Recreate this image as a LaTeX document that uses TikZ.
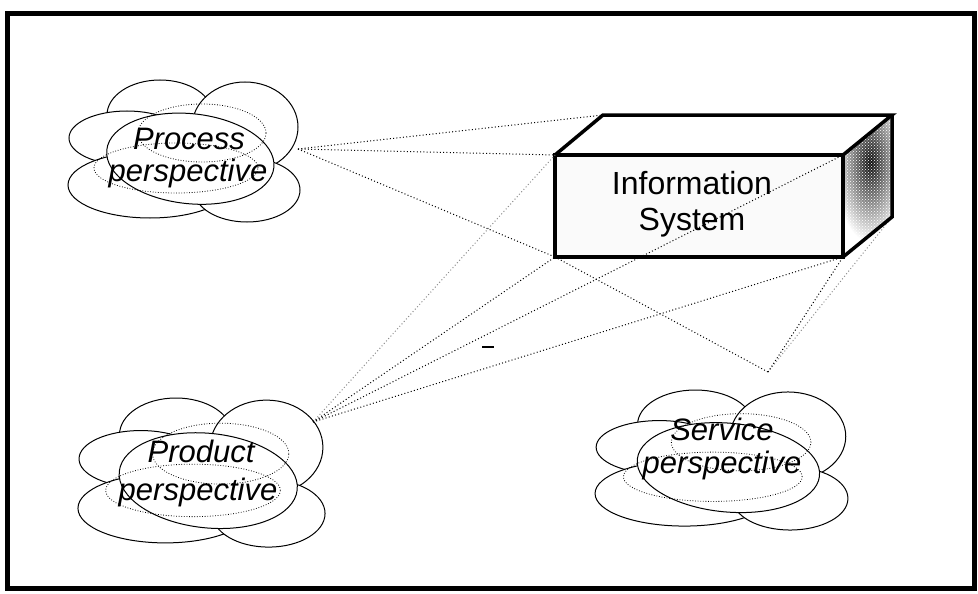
\documentclass[tikz,border=0pt]{standalone}
\usepackage{fontspec}
\setmainfont{Liberation Sans}
\usetikzlibrary{patterns}

% one cloud: solid puffs filled white, two dotted rings on top
\newcommand\cloudshape[4]{%
  \begin{scope}[shift={(#1,#2)}, xscale=#3, yscale=#4]
    \path[puff] (-24,-37) ellipse [x radius=53pt, y radius=35pt];
    \path[puff] (61,-25) ellipse [x radius=53pt, y radius=45pt];
    \path[puff] (-57,-14) ellipse [x radius=58pt, y radius=27pt];
    \path[puff] (-34,33) ellipse [x radius=82pt, y radius=33pt];
    \path[puff] (63,38) ellipse [x radius=53pt, y radius=32pt];
    \path[puff, rotate=-6] (7,6) ellipse [x radius=84pt, y radius=45pt];
    \path[ring] (18,-19) ellipse [x radius=64pt, y radius=29pt];
    \path[ring] (-8,16) ellipse [x radius=82pt, y radius=25pt];
  \end{scope}}

\begin{document}
\begin{tikzpicture}[x=1pt, y=-1pt,
  link/.style={line width=1pt, dash pattern=on 1pt off 2.3pt},
  faintlink/.style={link, black!45},
  puff/.style={draw=black, line width=1pt, fill=white},
  ring/.style={draw=black, line width=0.8pt, dash pattern=on 0.8pt off 1.8pt},
  edgeline/.style={line width=3.5pt, line join=miter},
  cloudtext/.style={font=\fontsize{31}{32}\selectfont\itshape, inner sep=0pt, anchor=base},
  boxtext/.style={font=\fontsize{32}{36}\selectfont, inner sep=0pt, anchor=base}
]
\useasboundingbox (0,0) rectangle (978,594);

% outer frame
\draw[line width=5pt] (7,14) rectangle (974,588);

% box corners (front / back)
\coordinate (FTL) at (555,155);
\coordinate (FTR) at (843,155);
\coordinate (FBR) at (843,257);
\coordinate (FBL) at (555,257);
\coordinate (BTL) at (603,115);
\coordinate (BTR) at (892,115);
\coordinate (BBR) at (892,217);

% where the links leave each perspective
\coordinate (procport) at (298,149);
\coordinate (prodport) at (313,422);
\coordinate (servport) at (768,372);

% clouds
\cloudshape{184}{152}{1}{1}
\cloudshape{201.5}{473.6}{1.065}{1.05}
\cloudshape{721.5}{461}{1.09}{0.986}

\node[cloudtext] (proc1) at (189,149) {Process};
\node[cloudtext] (proc2) at (188,181) {perspective};
\node[cloudtext] (prod1) at (201,462) {Product};
\node[cloudtext] (prod2) at (198,500) {perspective};
\node[cloudtext] (serv1) at (722,440) {Service};
\node[cloudtext] (serv2) at (722,473) {perspective};

% link hidden behind the side face
\draw[faintlink] (servport) -- (BBR);

% information system box
\fill[black!2] (FTL) rectangle (FBR);
\fill[white] (FTL) -- (BTL) -- (BTR) -- (FTR) -- cycle;
\begin{scope}
  \clip (FTR) -- (BTR) -- (BBR) -- (FBR) -- cycle;
  \fill[white] (FTR) -- (BTR) -- (BBR) -- (FBR) -- cycle;
  \shade[inner color=black!95, outer color=white] (870,162) ellipse [x radius=36pt, y radius=80pt];
  \fill[pattern=crosshatch dots, pattern color=white] (FTR) -- (BTR) -- (BBR) -- (FBR) -- cycle;
\end{scope}
\draw[edgeline] (FTL) rectangle (FBR);
\draw[edgeline] (FTL) -- (BTL) -- (BTR) -- (FTR);
\draw[edgeline] (BTR) -- (BBR) -- (FBR);

\node[boxtext] (is1) at (692,194) {Information};
\node[boxtext] (is2) at (692,230) {System};

% links
\draw[link] (procport) -- (BTL);
\draw[link] (procport) -- (FTL);
\draw[link] (procport) -- (FBL);
\draw[faintlink] (prodport) -- (FTL);
\draw[link] (prodport) -- (FBL);
\draw[link] (prodport) -- (FTR);
\draw[link] (prodport) -- (FBR);
\draw[link] (FBL) -- (servport);
\draw[link] (servport) -- (FBR);

% small stray stroke
\coordinate (speck) at (488,347);
\draw[line width=2pt] ([xshift=-6pt]speck) -- ([xshift=6pt]speck);
\end{tikzpicture}
\end{document}
